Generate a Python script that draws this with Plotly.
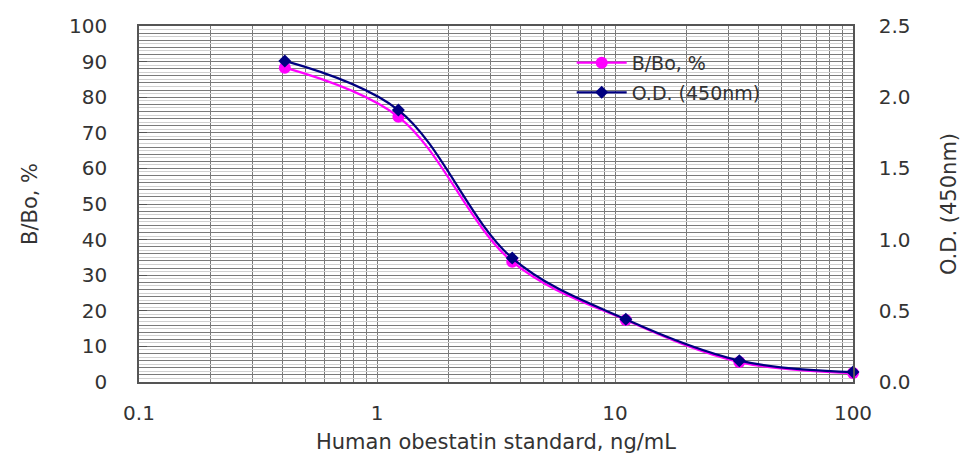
import plotly.graph_objects as go

# Data
conc = [0.41, 1.23, 3.7, 11.1, 33.3, 100]
bbo_pct = [88.3, 74.5, 33.8, 17.4, 5.6, 2.5]
od_450 = [2.255, 1.91, 0.87, 0.44, 0.15, 0.07]

x_labels = {0.1: "0.1", 1: "1", 10: "10", 100: "100"}

FONT = "DejaVu Sans"
TXT = "#333333"
GRID_DARK = "#7a7a7a"
GRID_LIGHT = "#d0d0d0"

x_grid = []
for dec in [0.1, 1, 10]:
    for m in range(1, 10):
        x_grid.append(round(dec * m, 6))
x_grid.append(100)
x_text = [x_labels.get(v, "") for v in x_grid]

fig = go.Figure()
fig.add_trace(go.Scatter(
    x=conc, y=bbo_pct, name="B/Bo, %", mode="lines+markers", legendgroup="a",
    line=dict(color="#ff00ff", width=2.2, shape="spline", smoothing=1.0),
    marker=dict(color="#ff00ff", size=12, symbol="circle"),
    yaxis="y", cliponaxis=False,
))
fig.add_trace(go.Scatter(
    x=conc, y=od_450, name="O.D. (450nm)", mode="lines+markers", legendgroup="b",
    line=dict(color="#000080", width=2.2, shape="spline", smoothing=1.0),
    marker=dict(color="#000080", size=10, symbol="diamond"),
    yaxis="y2", cliponaxis=False,
))
# invisible helper for light grid at odd units
fig.add_trace(go.Scatter(x=[0.1], y=[0], yaxis="y3", mode="markers",
                         marker=dict(opacity=0), showlegend=False, hoverinfo="skip"))

fig.update_layout(
    width=971, height=454,
    margin=dict(l=139, r=118, t=26, b=72),
    paper_bgcolor="white", plot_bgcolor="white",
    font=dict(family=FONT, color=TXT, size=20),
    showlegend=True,
    legend=dict(x=0.606, y=0.95, xanchor="left", yanchor="top",
                bgcolor="rgba(0,0,0,0)", font=dict(size=19, color=TXT),
                itemwidth=50, traceorder="grouped", tracegroupgap=2),
    xaxis=dict(
        type="log", range=[-1, 2], automargin=False,
        tickvals=x_grid, ticktext=x_text, ticks="",
        showgrid=True, gridcolor=GRID_DARK, gridwidth=1,
        showline=True, linecolor="#555555", linewidth=1.5, mirror=True,
        tickfont=dict(size=20), zeroline=False, ticklabelstandoff=12,
        title=dict(text="Human obestatin standard, ng/mL", font=dict(size=21), standoff=16),
    ),
    yaxis=dict(
        range=[0, 100], dtick=10, ticks="inside", ticklen=8, tickcolor="#555555",
        automargin=False,
        showgrid=True, gridcolor=GRID_DARK,
        minor=dict(dtick=2, showgrid=True, gridcolor=GRID_DARK, ticks=""),
        showline=True, linecolor="#555555", linewidth=1.5,
        tickfont=dict(size=20), zeroline=False, ticklabelstandoff=26,
        title=dict(text="B/Bo, %", font=dict(size=21), standoff=26),
    ),
    yaxis2=dict(
        range=[0, 2.5], dtick=0.5, tickformat=".1f", overlaying="y", side="right",
        automargin=False,
        ticks="inside", ticklen=8, tickcolor="#555555", showgrid=False,
        showline=True, linecolor="#555555", linewidth=1.5,
        tickfont=dict(size=20), zeroline=False, ticklabelstandoff=20,
        title=dict(text="O.D. (450nm)", font=dict(size=21), standoff=32),
    ),
    yaxis3=dict(
        range=[0, 100], overlaying="y", side="left", automargin=False,
        tickvals=list(range(1, 100, 2)), showticklabels=False, ticks="",
        showgrid=True, gridcolor=GRID_LIGHT, zeroline=False, showline=False,
    ),
)
fig.write_html("out.html")
